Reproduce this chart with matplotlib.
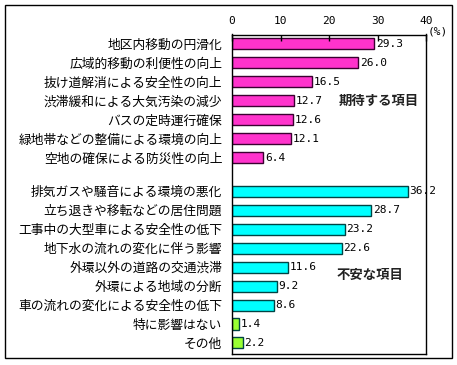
import matplotlib
matplotlib.use("Agg")
import matplotlib.pyplot as plt
from matplotlib.patches import Rectangle

plt.rcParams['font.family'] = ['Noto Sans CJK JP', 'DejaVu Sans']

expect_labels = ["地区内移動の円滑化", "広域的移動の利便性の向上", "抜け道解消による安全性の向上",
                 "渋滞緩和による大気汚染の減少", "バスの定時運行確保", "緑地帯などの整備による環境の向上",
                 "空地の確保による防災性の向上"]
expect_values = [29.3, 26.0, 16.5, 12.7, 12.6, 12.1, 6.4]

worry_labels = ["排気ガスや騒音による環境の悪化", "立ち退きや移転などの居住問題", "工事中の大型車による安全性の低下",
                "地下水の流れの変化に伴う影響", "外環以外の道路の交通渋滞", "外環による地域の分断",
                "車の流れの変化による安全性の低下"]
worry_values = [36.2, 28.7, 23.2, 22.6, 11.6, 9.2, 8.6]

other_labels = ["特に影響はない", "その他"]
other_values = [1.4, 2.2]

xticks = [0, 10, 20, 30, 40]

fig = plt.figure(figsize=(4.57, 3.65), dpi=100)
ax = fig.add_axes([232/457, 1-354/365, (426-232)/457, (354-34.5)/365])

gap = 1.76
pos1 = list(range(len(expect_labels)))
start2 = pos1[-1] + gap
pos2 = [start2 + i for i in range(len(worry_labels))]
pos3 = [pos2[-1] + 1 + i for i in range(len(other_labels))]

h = 0.58
ax.barh(pos1, expect_values, height=h, color='#ff33cc', edgecolor='#3a0030', linewidth=1)
ax.barh(pos2, worry_values, height=h, color='#00ffff', edgecolor='#004444', linewidth=1)
ax.barh(pos3, other_values, height=h, color='#99ff33', edgecolor='#004444', linewidth=1)

for p, v in zip(pos1 + pos2 + pos3, expect_values + worry_values + other_values):
    ax.text(v + 0.4, p, f"{v:.1f}", va='center', ha='left', fontsize=8,
            family=['DejaVu Sans Mono'], color='black')

ax.set_yticks(pos1 + pos2 + pos3)
ax.set_yticklabels(expect_labels + worry_labels + other_labels, fontsize=9.2)
ax.tick_params(axis='y', length=0, pad=7)

ax.set_xlim(0, 40)
ax.set_ylim(pos3[-1] + 0.58, -0.49)
ax.xaxis.tick_top()
ax.set_xticks(xticks)
ax.set_xticklabels([str(t) for t in xticks], family=['DejaVu Sans Mono'], fontsize=8)
ax.tick_params(axis='x', direction='in', length=4, pad=6, width=1)

for s in ax.spines.values():
    s.set_linewidth(1)
    s.set_color('black')

fig.text(428/457, 1-31/365, "(%)", fontsize=8, family=['DejaVu Sans Mono'], va='center', ha='left')

ax.text(22.1, 3, "期待する項目", fontsize=9.6, fontweight='bold', va='center', ha='left', color='#222222')
ax.text(21.5, pos2[4] + 0.4, "不安な項目", fontsize=9.6, fontweight='bold', va='center', ha='left', color='#222222')

fig.patches.append(Rectangle((5/457, 1-358/365), 447/457, 353/365, transform=fig.transFigure,
                             fill=False, edgecolor='black', linewidth=1))

fig.savefig("out.png", dpi=100)
